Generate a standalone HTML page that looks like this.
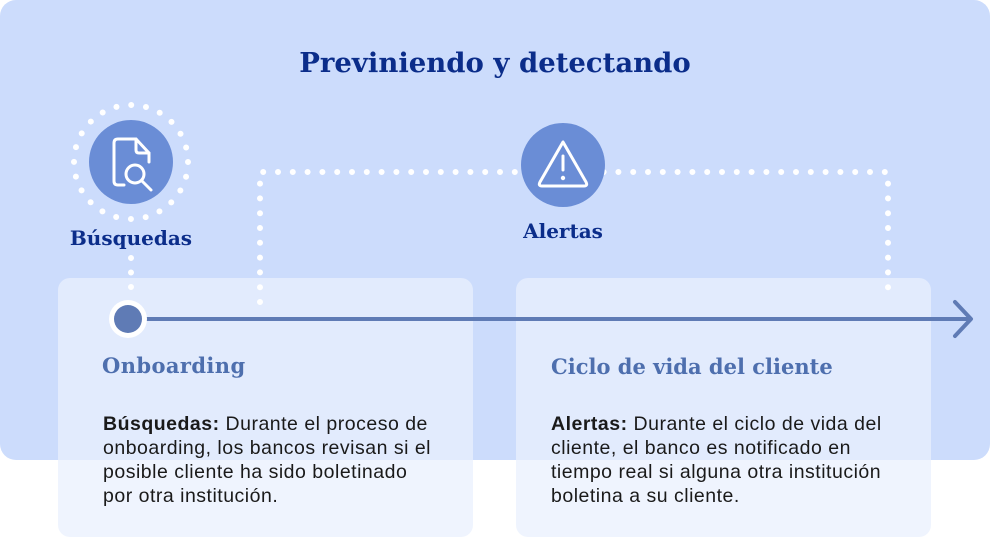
<!DOCTYPE html>
<html><head><meta charset="utf-8"><style>
html,body{margin:0;padding:0;background:#fff;width:990px;height:537px;overflow:hidden}
svg{display:block}
.h{font-family:"DejaVu Serif","Liberation Serif",serif;font-weight:bold}
.b{font-family:"Liberation Sans",sans-serif;font-size:19.5px;letter-spacing:0.5px;fill:#1a1a1a}
</style></head><body>
<svg width="990" height="537" viewBox="0 0 990 537" xmlns="http://www.w3.org/2000/svg">
<rect x="0" y="0" width="990" height="460" rx="16" fill="#ccdcfc"/>
<text x="495" y="72" text-anchor="middle" class="h" font-size="27.5" fill="#0b2d8a">Previniendo y detectando</text>
<rect x="58" y="278" width="415" height="259" rx="12" fill="#eaf0fe" fill-opacity="0.75"/>
<rect x="516" y="278" width="415" height="259" rx="12" fill="#eaf0fe" fill-opacity="0.75"/>
<path d="M260 302 V172 H888 V302" fill="none" stroke="#fff" stroke-width="6" stroke-linecap="round" stroke-dasharray="0 14.8"/>
<path d="M131 258 V292" fill="none" stroke="#fff" stroke-width="6" stroke-linecap="round" stroke-dasharray="0 14.5"/>
<circle cx="131" cy="162" r="57" fill="none" stroke="#fff" stroke-width="6" stroke-linecap="round" stroke-dasharray="0 14.92"/>
<circle cx="131" cy="162" r="42" fill="#6a8dd6"/>
<circle cx="563" cy="165" r="42" fill="#6a8dd6"/>
<g fill="none" stroke="#fff" stroke-width="3" stroke-linejoin="round" stroke-linecap="round">
<path d="M124 185 H118 Q114 185 114 181 V143 Q114 139 118 139 H136 L149 153 V162"/>
<path d="M136 139 V150 Q136 153 139 153 H149"/>
<circle cx="135" cy="174" r="9"/>
<path d="M142 181 L151 190"/>
<path d="M563 142 L540 182 Q538 186 542 186 H584 Q588 186 586 182 Z"/>
<path d="M563 156 V170"/>
</g>
<circle cx="563" cy="178" r="2.2" fill="#fff"/>
<text x="131" y="245" text-anchor="middle" class="h" font-size="20" fill="#0b2d8a">Búsquedas</text>
<text x="563" y="238" text-anchor="middle" class="h" font-size="20" fill="#0b2d8a">Alertas</text>
<line x1="128" y1="319" x2="970" y2="319" stroke="#5f7bb5" stroke-width="4"/>
<path d="M955 302 L971 319 L955 336" fill="none" stroke="#5f7bb5" stroke-width="4" stroke-linecap="round" stroke-linejoin="round"/>
<circle cx="128" cy="319" r="19" fill="#fff"/>
<circle cx="128" cy="319" r="14" fill="#5f7bb5"/>
<text x="102" y="373" class="h" font-size="21" fill="#4e6fae" letter-spacing="0.4">Onboarding</text>
<text x="551" y="374" class="h" font-size="21" fill="#4e6fae">Ciclo de vida del cliente</text>
<text class="b"><tspan x="103" y="430"><tspan font-weight="bold">Búsquedas:</tspan> Durante el proceso de</tspan><tspan x="103" y="454">onboarding, los bancos revisan si el</tspan><tspan x="103" y="478">posible cliente ha sido boletinado</tspan><tspan x="103" y="502">por otra institución.</tspan></text>
<text class="b"><tspan x="551" y="430"><tspan font-weight="bold">Alertas:</tspan> Durante el ciclo de vida del</tspan><tspan x="551" y="454">cliente, el banco es notificado en</tspan><tspan x="551" y="478">tiempo real si alguna otra institución</tspan><tspan x="551" y="502">boletina a su cliente.</tspan></text>
</svg>
</body></html>
